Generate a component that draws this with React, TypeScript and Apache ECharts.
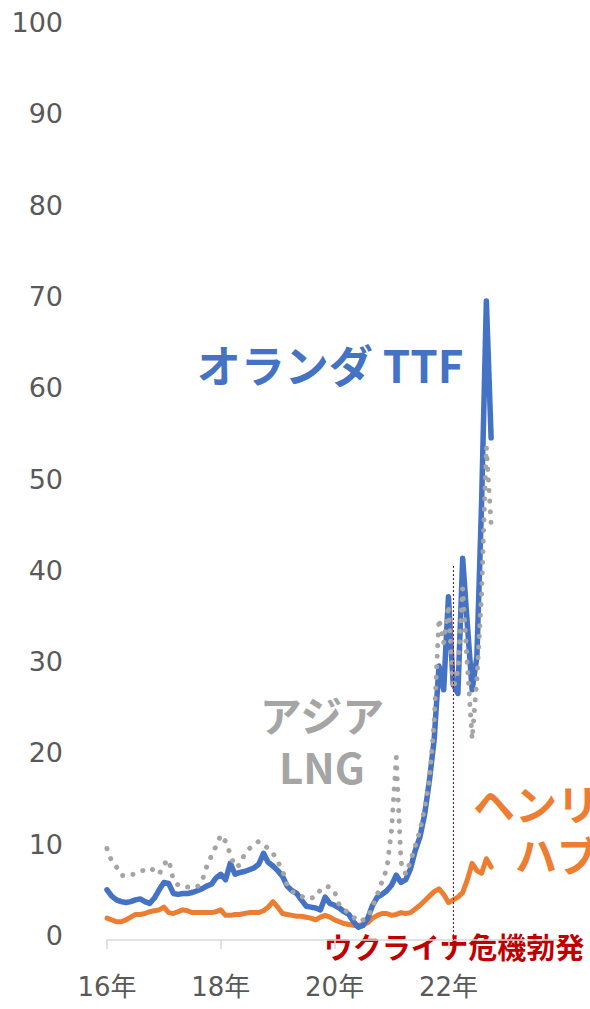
import React, { useEffect, useRef } from "react";
import * as echarts from "echarts";

// Months from 2016-01 to 2023-12 (axis categories)
const startYear = 2016;
const endYear = 2023;
const months: string[] = [];
for (let y = startYear; y <= endYear; y++) {
  for (let m = 1; m <= 12; m++) months.push(`${y}-${String(m).padStart(2, "0")}`);
}

// Netherlands TTF ($/MMBtu), monthly from 2016-01
const ttf = [
  5.5, 4.8, 4.4, 4.2, 4.1, 4.2, 4.4, 4.5, 4.2, 4.0, 4.6, 5.5,
  6.3, 6.2, 5.1, 5.0, 5.1, 5.1, 5.2, 5.4, 5.6, 5.9, 6.1, 6.8,
  7.2, 6.6, 8.4, 7.2, 7.4, 7.5, 7.7, 7.9, 8.3, 9.5, 8.5, 8.1,
  7.6, 7.0, 5.9, 5.4, 5.1, 4.4, 3.7, 3.6, 3.5, 3.3, 4.7, 4.0,
  3.8, 3.5, 3.1, 2.8, 2.0, 1.4, 1.6, 2.4, 3.8, 4.7, 5.0, 5.4,
  6.0, 7.1, 6.3, 6.6, 7.8, 9.8, 11.3, 13.8, 17.5, 22.0, 30.0, 27.4,
  37.6, 28.0, 27.0, 41.8, 34.5, 27.4, 31.0, 48.0, 70.0, 55.0,
];

// Asia LNG (JKM)
const asiaLng = [
  10.0, 8.6, 8.0, 7.1, 7.0, 7.1, 7.3, 7.5, 7.7, 7.9, 7.6, 7.2,
  8.3, 8.8, 6.6, 6.0, 5.8, 5.8, 5.8, 5.8, 6.4, 8.0, 9.2, 10.3,
  11.5, 10.8, 9.4, 8.0, 8.2, 9.4, 10.0, 10.5, 10.8, 10.5, 10.0, 9.5,
  8.6, 7.6, 6.0, 5.3, 5.1, 4.8, 4.5, 4.6, 4.7, 5.5, 5.9, 5.8,
  5.3, 3.8, 3.3, 3.0, 2.5, 2.0, 2.2, 2.5, 3.6, 5.0, 6.4, 7.8,
  12.0, 20.0, 8.5, 7.2, 8.6, 10.3, 12.0, 14.5, 17.5, 24.0, 35.2, 32.5,
  36.7, 27.5, 29.5, 38.5, 30.0, 22.0, 28.5, 38.0, 54.0, 45.5,
];

// Henry Hub
const henryHub = [
  2.4, 2.2, 2.0, 2.0, 2.2, 2.5, 2.8, 2.8, 2.9, 3.1, 3.2, 3.3,
  3.6, 3.0, 2.9, 3.1, 3.3, 3.2, 3.0, 3.0, 3.0, 3.0, 3.0, 3.1,
  3.3, 2.7, 2.7, 2.8, 2.8, 2.9, 3.0, 3.0, 3.0, 3.2, 3.6, 4.2,
  3.6, 2.9, 2.8, 2.7, 2.6, 2.6, 2.5, 2.4, 2.2, 2.5, 2.7, 2.5,
  2.2, 2.0, 1.8, 1.7, 1.6, 1.6, 1.7, 1.9, 2.4, 2.7, 2.9, 2.9,
  2.7, 2.8, 3.0, 2.9, 3.0, 3.4, 3.8, 4.3, 4.8, 5.3, 5.6, 5.0,
  4.1, 4.4, 4.7, 5.2, 6.6, 8.4, 7.6, 7.3, 8.9, 8.0,
];

const yTicks = { min: 0, max: 100, interval: 10 };
const crisisMonth = "2022-02";
const crisisLineTop = 41;

const BLUE = "#4472C4";
const ORANGE = "#ED7D31";
const GREY = "#A5A5A5";
const RED = "#C00000";
const CJK = "'Noto Sans CJK JP', sans-serif";

export default function App() {
  const ref = useRef<HTMLDivElement>(null);
  useEffect(() => {
    if (!ref.current) return;
    const chart = echarts.init(ref.current, undefined, { renderer: "svg" });
    chart.setOption({
      animation: false,
      backgroundColor: "#ffffff",
      grid: { left: 107, right: 32.5, top: 27, bottom: 69, containLabel: false },
      xAxis: {
        type: "category",
        boundaryGap: false,
        data: months,
        axisLine: { lineStyle: { color: "#D9D9D9", width: 1.5 } },
        axisTick: { show: true, interval: 23, length: 9, lineStyle: { color: "#D9D9D9", width: 1.5 } },
        axisLabel: {
          interval: 23,
          formatter: (v: string) => v.slice(2, 4) + "年",
          color: "#595959",
          fontSize: 26,
          fontFamily: "'DejaVu Sans', 'Noto Sans CJK JP'",
          margin: 34,
        },
        splitLine: { show: false },
      },
      yAxis: {
        type: "value",
        min: yTicks.min,
        max: yTicks.max,
        interval: yTicks.interval,
        axisLine: { show: false },
        axisTick: { show: false },
        splitLine: { show: false },
        axisLabel: {
          color: "#595959",
          fontSize: 27,
          fontFamily: "'DejaVu Sans'",
          margin: 44,
          verticalAlign: "bottom",
          lineHeight: 9,
        },
      },
      series: [
        {
          name: "ヘンリーハブ",
          type: "line",
          data: henryHub,
          showSymbol: false,
          lineStyle: { color: ORANGE, width: 5, join: "round", cap: "round" },
          z: 2,
          markLine: {
            silent: true,
            symbol: "none",
            label: { show: false },
            lineStyle: { color: RED, width: 1, type: [2, 2] },
            data: [[{ coord: [crisisMonth, 0] }, { coord: [crisisMonth, crisisLineTop] }]],
          },
        },
        {
          name: "オランダ TTF",
          type: "line",
          data: ttf,
          showSymbol: false,
          lineStyle: { color: BLUE, width: 5.5, join: "round", cap: "round" },
          z: 3,
        },
        {
          name: "アジア LNG",
          type: "line",
          data: asiaLng,
          showSymbol: false,
          lineStyle: { color: GREY, width: 5, type: [0.1, 10.5], cap: "round", join: "round" },
          z: 4,
        },
      ],
      graphic: [
        {
          type: "text",
          x: 330,
          y: 364,
          style: {
            text: "オランダ TTF",
            fill: BLUE,
            fontSize: 44,
            fontWeight: "bold",
            fontFamily: CJK,
            textAlign: "center",
            textVerticalAlign: "middle",
          },
        },
        {
          type: "text",
          x: 322,
          y: 739,
          style: {
            text: "アジア\nLNG",
            fill: GREY,
            fontSize: 42,
            fontWeight: "bold",
            fontFamily: CJK,
            lineHeight: 52,
            textAlign: "center",
            textVerticalAlign: "middle",
          },
        },
        {
          type: "text",
          x: 557,
          y: 828,
          style: {
            text: "ヘンリー\nハブ",
            fill: ORANGE,
            fontSize: 42,
            fontWeight: "bold",
            fontFamily: CJK,
            lineHeight: 51,
            textAlign: "center",
            textVerticalAlign: "middle",
          },
        },
        {
          type: "text",
          x: 454,
          y: 946,
          style: {
            text: "ウクライナ危機勃発",
            fill: RED,
            fontSize: 29,
            fontWeight: "bold",
            fontFamily: CJK,
            textAlign: "center",
            textVerticalAlign: "middle",
          },
        },
      ],
    });
    return () => chart.dispose();
  }, []);
  return (
    <div
      ref={ref}
      style={{ position: "fixed", left: 0, top: 0, width: 590, height: 1009, background: "#fff" }}
    />
  );
}
